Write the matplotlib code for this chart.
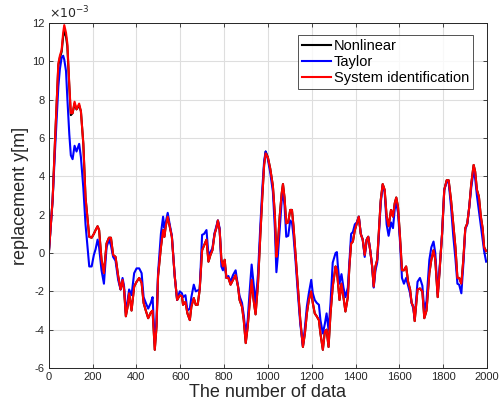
import matplotlib
matplotlib.use("Agg")
import matplotlib.pyplot as plt

plt.rcParams['font.family'] = ['Liberation Sans', 'DejaVu Sans']

samples = [0, 18, 29, 44, 51, 59, 66, 71, 79, 85, 94, 101, 109, 118, 127, 139, 147, 158, 168,
           185, 196, 206, 214, 223, 230, 241, 252, 264, 275, 284, 294, 305, 317, 328, 337, 344,
           352, 360, 367, 378, 390, 401, 413, 424, 433, 443, 454, 466, 474, 484, 492, 499, 512,
           522, 528, 534, 543, 552, 562, 575, 586, 598, 608, 613, 624, 633, 644, 651, 662, 671,
           680, 689, 700, 709, 720, 729, 738, 747, 757, 765, 772, 780, 788, 795, 803, 811, 820,
           830, 841, 853, 864, 871, 882, 890, 899, 908, 917, 926, 935, 944, 955, 966, 975, 983,
           990, 1000, 1011, 1023, 1032, 1039, 1046, 1054, 1063, 1069, 1076, 1084, 1093, 1102,
           1110, 1117, 1126, 1137, 1148, 1160, 1169, 1178, 1187, 1198, 1205, 1214, 1223, 1233,
           1240, 1251, 1260, 1268, 1277, 1286, 1296, 1309, 1315, 1319, 1327, 1336, 1345, 1354,
           1365, 1372, 1380, 1388, 1397, 1406, 1415, 1424, 1433, 1442, 1451, 1458, 1467, 1476,
           1483, 1491, 1499, 1506, 1515, 1524, 1533, 1542, 1551, 1562, 1571, 1579, 1586, 1594,
           1603, 1612, 1621, 1631, 1640, 1649, 1656, 1664, 1670, 1683, 1694, 1705, 1714, 1724,
           1737, 1746, 1756, 1764, 1775, 1782, 1795, 1805, 1816, 1825, 1836, 1846, 1856, 1865,
           1873, 1883, 1892, 1901, 1910, 1919, 1928, 1939, 1946, 1954, 1963, 1972, 1980, 1987,
           1996]

sysid = [-0.1, 2.8, 5.9, 9.9, 10.3, 10.6, 11.5, 11.9, 11.5, 10.95, 8.8, 7.3, 7.3, 7.9, 7.5, 7.8,
         7.4, 5.7, 2.9, 0.85, 0.8, 1.0, 1.2, 1.4, 1.2, -0.35, -1.05, 0.5, 0.8, 0.8, -0.1, -0.2,
         -1.2, -1.9, -1.4, -1.9, -3.3, -2.8, -2.1, -3.0, -1.75, -1.5, -1.3, -1.55, -2.6, -3.0,
         -3.4, -3.1, -3.0, -5.05, -3.85, -1.2, 0.3, 1.2, 0.85, 1.4, 1.9, 1.4, 0.85, -1.2, -2.45,
         -2.2, -2.25, -2.7, -2.55, -3.15, -3.5, -2.8, -2.35, -2.7, -2.7, -1.9, 0.15, 0.4, 0.7,
         -0.45, -0.1, 0.15, 1.0, 1.3, 1.7, 1.2, -0.35, -0.7, -0.35, -1.3, -1.3, -1.65, -1.4,
         -1.15, -1.75, -2.45, -2.8, -3.5, -4.7, -3.85, -2.6, -1.4, -2.45, -3.2, -1.6, 1.0, 3.0,
         4.6, 5.2, 5.0, 4.4, 3.5, 2.0, -0.2, 0.5, 1.9, 3.1, 3.6, 2.9, 1.55, 1.6, 2.25, 2.25, 1.4,
         0.0, -1.75, -3.5, -4.9, -4.2, -3.15, -2.45, -2.0, -2.6, -3.15, -3.3, -3.5, -4.2, -5.05,
         -4.1, -4.0, -4.9, -3.15, -1.75, -0.7, -0.9, -1.4, -2.45, -1.6, -2.3, -3.05, -2.3, -0.7,
         0.5, 0.6, 1.2, 1.55, 1.9, 1.0, 0.7, -0.1, 0.7, 0.85, 0.15, -0.7, -1.75, -0.7, -0.35,
         1.0, 2.75, 3.6, 3.3, 1.9, 1.4, 2.25, 1.9, 2.6, 2.9, 2.4, 0.85, -0.9, -0.9, -0.7, -1.5,
         -1.9, -2.6, -2.8, -3.55, -1.9, -1.85, -2.0, -3.4, -3.0, -1.05, -0.35, 0.15, -0.35, -2.3,
         -1.2, 1.0, 3.3, 3.8, 3.8, 2.75, 1.55, 0.3, -1.3, -1.3, -1.6, -0.35, 1.3, 1.55, 2.4, 3.6,
         4.6, 4.25, 3.3, 2.95, 1.9, 1.3, 0.3, 0.1]

nonlinear = [-0.1, 2.8, 5.9, 9.8, 10.2, 10.5, 11.3, 11.6, 11.3, 10.8, 8.7, 7.2, 7.3, 7.8, 7.5, 7.7,
             7.4, 5.7, 2.9, 0.85, 0.8, 1.0, 1.2, 1.4, 1.2, -0.35, -1.05, 0.5, 0.8, 0.8, -0.1, -0.2,
             -1.2, -1.9, -1.4, -1.9, -3.3, -2.8, -2.1, -3.0, -1.75, -1.5, -1.3, -1.55, -2.6, -3.0,
             -3.4, -3.1, -3.0, -5.05, -3.85, -1.2, 0.3, 1.2, 0.85, 1.4, 1.9, 1.4, 0.85, -1.2, -2.45,
             -2.2, -2.25, -2.7, -2.55, -3.15, -3.5, -2.8, -2.35, -2.7, -2.7, -1.9, 0.15, 0.4, 0.7,
             -0.45, -0.1, 0.15, 1.0, 1.3, 1.7, 1.2, -0.35, -0.7, -0.35, -1.3, -1.3, -1.65, -1.4,
             -1.15, -1.75, -2.45, -2.8, -3.5, -4.7, -3.85, -2.6, -1.4, -2.45, -3.2, -1.6, 1.0, 3.0,
             4.6, 5.3, 5.0, 4.4, 3.5, 2.0, -0.2, 0.5, 1.9, 3.1, 3.6, 2.9, 1.55, 1.6, 2.25, 2.25, 1.4,
             0.0, -1.75, -3.5, -4.9, -4.2, -3.15, -2.45, -2.0, -2.6, -3.15, -3.3, -3.5, -4.2, -5.05,
             -4.1, -4.0, -4.9, -3.15, -1.75, -0.7, -0.9, -1.4, -2.45, -1.6, -2.3, -3.05, -2.3, -0.7,
             0.5, 0.6, 1.2, 1.55, 1.9, 1.0, 0.7, -0.1, 0.7, 0.85, 0.15, -0.7, -1.75, -0.7, -0.35,
             1.0, 2.75, 3.6, 3.3, 1.9, 1.4, 2.25, 1.9, 2.6, 2.9, 2.4, 0.85, -0.9, -0.9, -0.7, -1.5,
             -1.9, -2.6, -2.8, -3.55, -1.9, -1.85, -2.0, -3.4, -3.0, -1.05, -0.35, 0.15, -0.35, -2.3,
             -1.2, 1.0, 3.3, 3.8, 3.8, 2.75, 1.55, 0.3, -1.3, -1.3, -1.6, -0.35, 1.3, 1.55, 2.4, 3.6,
             4.6, 4.25, 3.3, 2.95, 1.9, 1.3, 0.3, 0.1]

taylor = [-0.1, 2.8, 5.4, 8.7, 9.6, 10.2, 10.3, 10.1, 9.5, 8.1, 6.2, 5.1, 4.9, 5.6, 5.3, 5.7,
          5.0, 3.4, 1.5, -0.7, -0.7, -0.1, 0.2, 0.7, 0.3, -0.9, -1.6, 0.3, 0.7, 0.4, -0.2, -0.4,
          -1.4, -1.9, -1.3, -1.75, -3.1, -2.5, -1.9, -2.2, -1.05, -0.8, -0.8, -1.05, -2.3, -2.6,
          -2.9, -2.6, -2.3, -4.7, -3.5, -1.05, 1.0, 1.9, 1.3, 1.6, 2.1, 1.5, 0.9, -1.2, -2.45,
          -2.0, -2.1, -2.3, -2.2, -3.0, -2.9, -2.3, -1.65, -2.0, -1.95, -1.9, 0.95, 1.0, 1.2,
          -0.1, 0.05, 0.25, 1.05, 1.4, 1.7, 1.3, -0.7, -0.9, -0.6, -1.3, -1.2, -1.5, -1.15,
          -0.9, -1.75, -2.25, -2.6, -3.25, -4.2, -3.5, -2.0, -0.6, -1.6, -2.6, -1.1, 1.5, 3.4,
          4.8, 5.3, 4.9, 4.2, 3.2, 1.3, -1.0, -0.1, 1.2, 2.7, 3.2, 2.5, 0.85, 0.9, 1.7, 1.6, 0.9,
          -0.35, -2.1, -3.7, -4.85, -3.9, -2.8, -2.1, -1.4, -2.1, -2.45, -2.6, -2.7, -3.5, -4.2,
          -3.7, -3.15, -4.0, -2.6, -0.5, 0.0, 0.05, -0.6, -1.6, -1.1, -1.8, -2.3, -1.8, -0.5,
          1.0, 1.1, 1.5, 1.6, 1.9, 1.0, 0.7, -0.2, 0.7, 0.85, 0.15, -0.7, -1.8, -0.9, -0.5,
          0.8, 2.6, 3.5, 3.2, 1.5, 0.9, 1.6, 1.3, 2.3, 2.6, 2.1, 0.6, -1.3, -1.6, -1.3, -1.7,
          -2.1, -2.6, -2.9, -3.4, -1.5, -1.3, -1.7, -3.0, -2.5, -0.35, 0.3, 0.6, 0.0, -2.1,
          -1.05, 1.0, 3.3, 3.7, 3.7, 2.4, 0.9, -0.3, -1.6, -1.65, -2.1, -0.6, 1.25, 1.5, 2.4, 3.4,
          4.3, 3.9, 3.0, 2.2, 1.4, 0.7, 0.1, -0.45]

x_ticks = [0, 200, 400, 600, 800, 1000, 1200, 1400, 1600, 1800, 2000]
y_ticks = [-6, -4, -2, 0, 2, 4, 6, 8, 10, 12]

fig = plt.figure(figsize=(5.0, 4.12), dpi=100)
ax = fig.add_axes([0.0974, 0.1068, 0.8766, 0.8370])

ax.plot(samples, nonlinear, color='black', lw=1.5, label='Nonlinear')
ax.plot(samples, taylor, color='#0000ff', lw=1.5, label='Taylor')
ax.plot(samples, sysid, color='#ff0000', lw=1.5, label='System identification')

ax.set_xlim(0, 2000)
ax.set_ylim(-6, 12)
ax.set_xticks(x_ticks)
ax.set_yticks(y_ticks)
ax.set_xticklabels([str(t) for t in x_ticks], fontsize=8, color='#262626')
ax.set_yticklabels([str(t) for t in y_ticks], fontsize=8, color='#262626')
ax.tick_params(direction='in', top=True, right=True, length=3, width=0.6, colors='#262626', pad=3)
ax.grid(True, color='#dedede', lw=0.8)
ax.set_axisbelow(True)
for s in ax.spines.values():
    s.set_color('#262626')
    s.set_linewidth(0.7)

ax.set_xlabel('The number of data', fontsize=13, color='#262626', labelpad=1)
ax.set_ylabel('replacement y[m]', fontsize=13, color='#262626', labelpad=2)
ax.text(0.0, 1.005, r'$\times 10^{-3}$', transform=ax.transAxes, fontsize=9,
        color='#262626', ha='left', va='bottom')

leg = ax.legend(loc='upper right', bbox_to_anchor=(0.968, 0.965), fontsize=10.5,
                frameon=True, fancybox=False, borderaxespad=0.0, handlelength=2.0,
                handletextpad=0.2, labelspacing=0.15, borderpad=0.25)
leg.get_frame().set_edgecolor('#262626')
leg.get_frame().set_linewidth(0.7)

fig.savefig('out.png', dpi=100)
